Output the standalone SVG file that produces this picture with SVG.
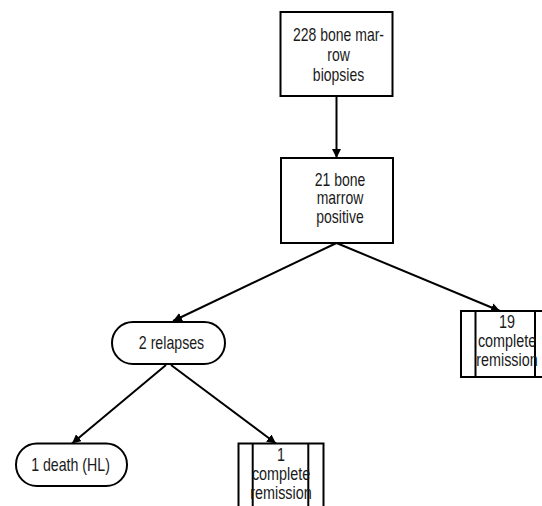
<svg xmlns="http://www.w3.org/2000/svg" width="542" height="506" viewBox="0 0 542 506">
<defs>
<style>
.box{fill:#fff;stroke:#000;stroke-width:2}
.bar{fill:none;stroke:#000;stroke-width:2}
.lbl{font-family:"Liberation Sans",Arial,sans-serif;font-size:17.5px;fill:#1a1a1a;text-anchor:middle}
.edge{fill:none;stroke:#000;stroke-width:2;marker-end:url(#ah)}
</style>
<marker id="ah" viewBox="0 0 10 10" refX="10" refY="5" markerWidth="4.5" markerHeight="4.5" orient="auto" markerUnits="strokeWidth">
<path d="M0,0 L10,5 L0,10 z" fill="#000"/>
</marker>
</defs>
<rect width="542" height="506" fill="#fff"/>
<g id="connectors">
<line class="edge" x1="336.5" y1="96" x2="336.5" y2="158"/>
<line class="edge" x1="336.5" y1="243" x2="173" y2="321"/>
<line class="edge" x1="336.5" y1="243" x2="500" y2="311"/>
<line class="edge" x1="166" y1="365" x2="72" y2="443.5"/>
<line class="edge" x1="171" y1="365" x2="276" y2="443.5"/>
</g>
<g id="n1">
<rect class="box" x="280.5" y="12" width="112" height="84"/>
<g transform="translate(338.5,0) scale(0.8,1)">
<text class="lbl" x="0" y="41.5">228 bone mar-</text>
<text class="lbl" x="0" y="61.5">row</text>
<text class="lbl" x="0" y="81">biopsies</text>
</g>
</g>
<g id="n2">
<rect class="box" x="281" y="158" width="112" height="85"/>
<g transform="translate(340,0) scale(0.8,1)">
<text class="lbl" x="0" y="186">21 bone</text>
<text class="lbl" x="0" y="204.5">marrow</text>
<text class="lbl" x="0" y="223">positive</text>
</g>
</g>
<g id="n3">
<rect class="box" x="112" y="322" width="113" height="42" rx="21" ry="21"/>
<g transform="translate(171.5,0) scale(0.81,1)">
<text class="lbl" x="0" y="349.5">2 relapses</text>
</g>
</g>
<g id="n4">
<rect class="box" x="461" y="311" width="89" height="66"/>
<line class="bar" x1="475.5" y1="311" x2="475.5" y2="377"/>
<line class="bar" x1="535" y1="311" x2="535" y2="377"/>
<g transform="translate(507,0) scale(0.82,1)">
<text class="lbl" x="0" y="328">19</text>
<text class="lbl" x="0" y="347">complete</text>
<text class="lbl" x="0" y="366">remission</text>
</g>
</g>
<g id="n5">
<rect class="box" x="16" y="443.5" width="111" height="42.5" rx="21" ry="21"/>
<g transform="translate(70.5,0) scale(0.81,1)">
<text class="lbl" x="0" y="471">1 death (HL)</text>
</g>
</g>
<g id="n6">
<rect class="box" x="238.5" y="443.5" width="85" height="66"/>
<line class="bar" x1="252.7" y1="443.5" x2="252.7" y2="509.5"/>
<line class="bar" x1="308.3" y1="443.5" x2="308.3" y2="509.5"/>
<g transform="translate(281,0) scale(0.82,1)">
<text class="lbl" x="0" y="461">1</text>
<text class="lbl" x="0" y="480">complete</text>
<text class="lbl" x="0" y="499">remission</text>
</g>
</g>
</svg>
